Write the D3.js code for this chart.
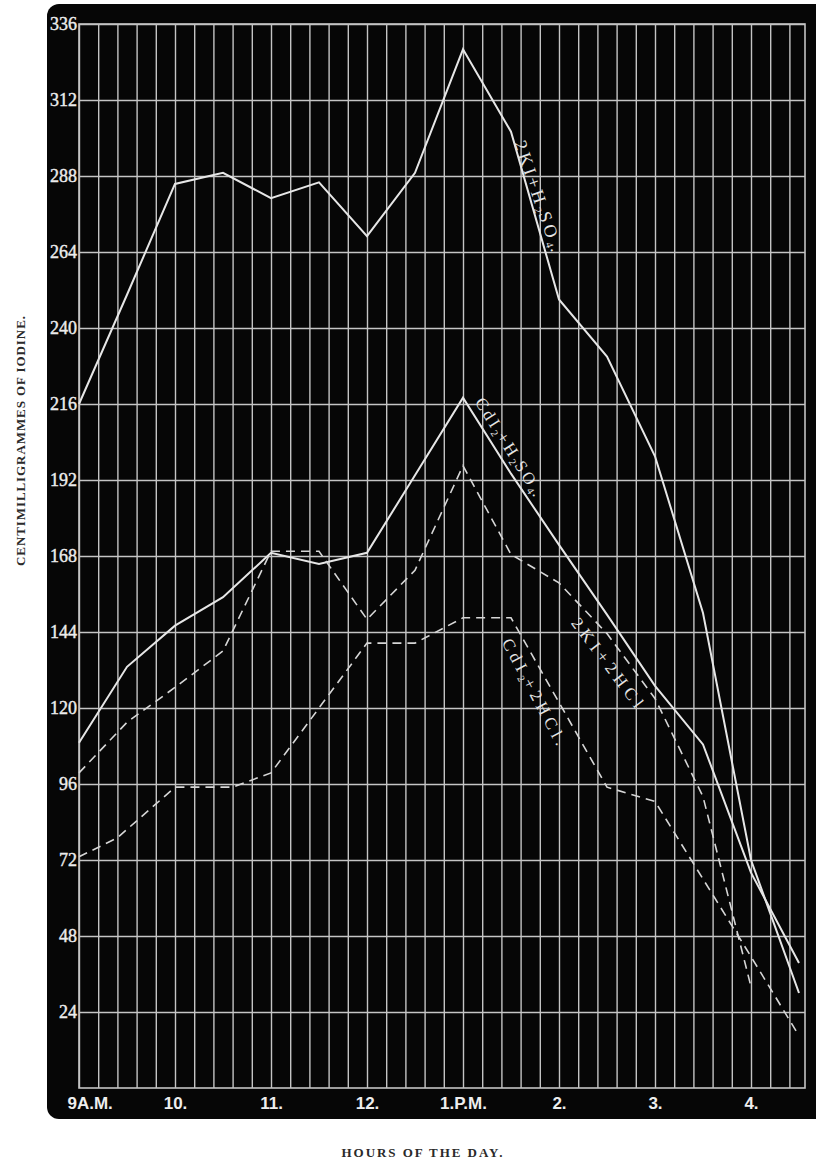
<!DOCTYPE html>
<html>
<head>
<meta charset="utf-8">
<script src="https://cdn.jsdelivr.net/npm/d3@7"></script>
<style>
  body { margin: 0; background: #fff; }
  svg { display: block; }
</style>
</head>
<body>
<div id="chart"></div>
<script>
// hours of the day (24h clock), readings every half hour
const hours = [9, 9.5, 10, 10.5, 11, 11.5, 12, 12.5, 13, 13.5, 14, 14.5, 15, 15.5, 16, 16.5];

// centimilligrammes of iodine
const kiH2so4   = [216, 250.5, 285.5, 289, 281, 286, 269, 289, 328, 302, 249, 231, 199.5, 150, 72, 30];
const cdi2H2so4 = [109, 133, 146, 155, 169, 165.5, 169, 193.5, 218, 194, 171.5, 149.5, 127, 108.5, 68, 39.5];
const kiHcl     = [99.5, 115.5, 126.5, 138, 169.5, 169.5, 148, 163.5, 196.5, 168.5, 159.5, 143.5, 123, 92, 32];
// this one was read at slightly different times
const cdi2HclHours = [9, 9.4, 10, 10.6, 11, 12, 12.5, 13, 13.5, 14.5, 15, 15.5, 16, 16.5];
const cdi2Hcl      = [73, 79, 95, 95, 99.5, 140.5, 140.5, 148.5, 148.5, 95, 90.5, 66, 41.5, 16.5];

const yTicks = [24, 48, 72, 96, 120, 144, 168, 192, 216, 240, 264, 288, 312, 336];
const hourTicks = [9, 10, 11, 12, 13, 14, 15, 16];
const hourLabels = ["9A.M.", "10.", "11.", "12.", "1.P.M.", "2.", "3.", "4."];

const W = 816, H = 1163;
const margin = {top: 24, right: 11, bottom: 75, left: 79};
const width = W - margin.left - margin.right;   // 726
const height = H - margin.top - margin.bottom;  // 1064

const svg = d3.select("#chart").append("svg")
    .attr("width", W)
    .attr("height", H);

// black board
svg.append("rect")
    .attr("x", 47).attr("y", 4)
    .attr("width", 800).attr("height", 1115)
    .attr("rx", 12)
    .attr("fill", "#060606");

const g = svg.append("g")
    .attr("transform", `translate(${margin.left},${margin.top})`);

const x = d3.scaleLinear().domain([9, 16.5625]).range([0, width]);
const y = d3.scaleLinear().domain([0, 336]).range([height, 0]);

const gridColor = "#c4c4c4";

// vertical grid, every 12 minutes
const minuteTicks = d3.range(0, 38).map(i => 9 + i * 0.2);
g.append("g")
    .attr("transform", `translate(0,${height})`)
    .call(d3.axisBottom(x).tickValues(minuteTicks).tickSize(-height).tickFormat(""))
    .call(a => a.select(".domain").remove())
    .call(a => a.selectAll("line").attr("stroke", gridColor).attr("stroke-width", 1.4));

// horizontal grid + y labels
g.append("g")
    .call(d3.axisLeft(y).tickValues(yTicks).tickSize(-width).tickPadding(2))
    .call(a => a.select(".domain").remove())
    .call(a => a.selectAll("line").attr("stroke", gridColor).attr("stroke-width", 1.4))
    .call(a => a.selectAll("text")
        .attr("fill", "#ececec")
        .attr("stroke", "#ececec")
        .attr("stroke-width", 0.4)
        .attr("font-family", "Liberation Serif, serif")
        .attr("font-size", 18));

// frame
g.append("rect")
    .attr("width", width).attr("height", height)
    .attr("fill", "none")
    .attr("stroke", gridColor)
    .attr("stroke-width", 1.6);

// hour labels
g.append("g")
    .attr("transform", `translate(0,${height})`)
    .call(d3.axisBottom(x).tickValues(hourTicks).tickSize(0).tickPadding(6)
        .tickFormat((d, i) => hourLabels[i]))
    .call(a => a.select(".domain").remove())
    .call(a => a.selectAll("text")
        .attr("fill", "#eeeeee")
        .attr("font-family", "Liberation Sans, Arial, sans-serif")
        .attr("font-weight", "bold")
        .attr("font-size", 17)
        .attr("dy", "0.9em"))
    .call(a => a.select(".tick text").attr("text-anchor", "start").attr("x", -12));

// series
const line = d3.line().x(d => x(d[0])).y(d => y(d[1]));
const series = [
  {pts: d3.zip(hours, kiH2so4), dash: null},
  {pts: d3.zip(hours, cdi2H2so4), dash: null},
  {pts: d3.zip(hours, kiHcl), dash: "9,6"},
  {pts: d3.zip(cdi2HclHours, cdi2Hcl), dash: "9,6"}
];
g.selectAll(".series")
  .data(series)
  .enter().append("path")
    .attr("class", "series")
    .attr("d", d => line(d.pts))
    .attr("fill", "none")
    .attr("stroke", d => d.dash ? "#d6d6d6" : "#e6e6e6")
    .attr("stroke-width", d => d.dash ? 1.6 : 2)
    .attr("stroke-dasharray", d => d.dash);

// labels along the curves
const labels = [
  {t: 13.53, v: 298.4, angle: 71, size: 18, ls: 3.5, parts: [["2KI+H"], ["2", 1], ["SO"], ["4", 1], ["."]]},
  {t: 13.12, v: 216.6, angle: 58, size: 17, ls: 3, parts: [["CdI"], ["2", 1], ["+H"], ["2", 1], ["SO"], ["4", 1], ["."]]},
  {t: 14.12, v: 146.8, angle: 53, size: 17, ls: 5, parts: [["2KI+2HCl"]]},
  {t: 13.40, v: 140.8, angle: 62, size: 17, ls: 4.5, parts: [["CdI"], ["2", 1], ["+2HCl."]]}
];
labels.forEach(l => {
  const txt = g.append("text")
      .attr("transform", `translate(${x(l.t)},${y(l.v)}) rotate(${l.angle})`)
      .attr("fill", "#e4e4e4")
      .attr("font-family", "Liberation Serif, serif")
      .attr("font-size", l.size)
      .attr("letter-spacing", l.ls);
  // subscripts drop 3px, then back to the baseline
  let shift = 0;
  l.parts.forEach(p => {
    const want = p[1] ? 3 : 0;
    const ts = txt.append("tspan").text(p[0]).attr("dy", want - shift);
    if (p[1]) ts.attr("font-size", l.size * 0.6).attr("letter-spacing", 1);
    shift = want;
  });
});

// axis titles
svg.append("text")
    .attr("transform", "translate(25,441) rotate(-90)")
    .attr("text-anchor", "middle")
    .attr("font-family", "Liberation Serif, serif")
    .attr("font-weight", "bold")
    .attr("font-size", 13)
    .attr("fill", "#2a2a2a")
    .attr("textLength", 250)
    .attr("lengthAdjust", "spacing")
    .text("CENTIMILLIGRAMMES OF IODINE.");

svg.append("text")
    .attr("x", 422).attr("y", 1157)
    .attr("text-anchor", "middle")
    .attr("font-family", "Liberation Serif, serif")
    .attr("font-weight", "bold")
    .attr("font-size", 13)
    .attr("fill", "#2a2a2a")
    .attr("textLength", 161)
    .attr("lengthAdjust", "spacing")
    .text("HOURS OF THE DAY.");
</script>
</body>
</html>
